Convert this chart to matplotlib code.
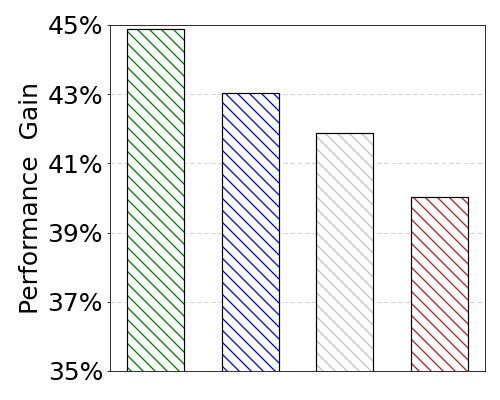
import matplotlib
matplotlib.use('Agg')
import matplotlib.pyplot as plt
from matplotlib.ticker import FuncFormatter

# data
methods = ["A", "B", "C", "D"]
gains = [44.88, 43.03, 41.87, 40.03]
hatch_colors = ["green", "blue", "silver", "firebrick"]
yticks = [35, 37, 39, 41, 43, 45]

plt.rcParams['hatch.linewidth'] = 1.3

fig = plt.figure(figsize=(500 / 72, 400 / 72), dpi=72)
ax = fig.add_axes([0.22, 0.0725, 0.75, 0.865])

x = list(range(len(methods)))
# hatched fill, then black outline on top
ax.bar(x, gains, width=0.6, color="white", edgecolor=hatch_colors,
       hatch="\\\\", linewidth=0, zorder=2)
ax.bar(x, gains, width=0.6, fill=False, edgecolor="black",
       linewidth=1.2, zorder=3)

ax.set_ylim(35, 45)
ax.set_yticks(yticks)
ax.yaxis.set_major_formatter(FuncFormatter(lambda v, p: f"{v:.0f}%"))
ax.set_xticks([])
ax.tick_params(axis="y", labelsize=25)
ax.set_ylabel("Performance  Gain", fontsize=25)
ax.yaxis.grid(True, linestyle=(0, (5, 3)), color="#d0d0d0", linewidth=0.9)
ax.set_axisbelow(True)

fig.savefig("out.png", dpi=72)
